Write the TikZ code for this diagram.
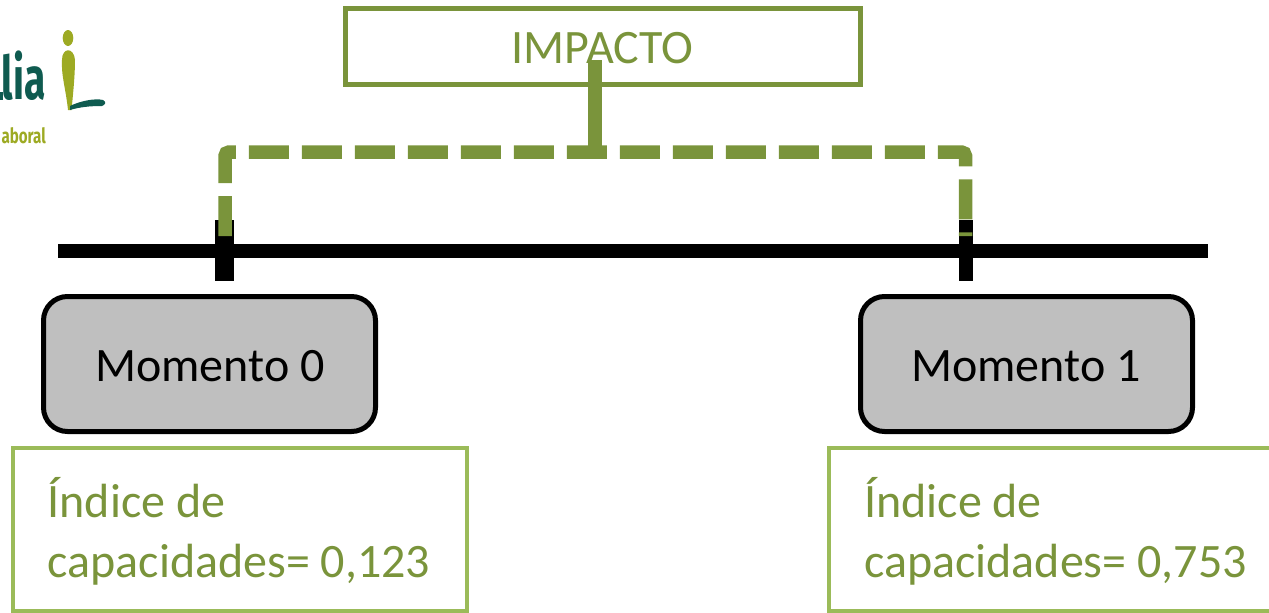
\documentclass[tikz,border=0pt]{standalone}
\usepackage{fontspec}
\setmainfont{Carlito}
\newfontfamily\logofont{Fira Sans}
\definecolor{olivegreen}{HTML}{7A943B}
\definecolor{lightgreen}{HTML}{9BBB59}
\definecolor{momentgray}{HTML}{BFBFBF}
\definecolor{logoolive}{HTML}{9DAA23}
\definecolor{logoteal}{HTML}{0F5B50}
\tikzset{
  titlebox/.style={draw=olivegreen,line width=5pt,fill=white,minimum width=515pt,minimum height=75.5pt,outer sep=0pt,inner sep=0pt},
  titletext/.style={inner sep=0pt,text=olivegreen,font=\fontsize{48}{48}\selectfont,anchor=base},
  momentbox/.style={draw=black,line width=5pt,fill=momentgray,rounded corners=24pt,minimum width=332pt,minimum height=135pt,outer sep=0pt,inner sep=0pt},
  momenttext/.style={inner sep=0pt,text=black,font=\fontsize{48}{48}\selectfont,anchor=base},
  indexbox/.style={draw=lightgreen,line width=4pt,fill=white,minimum height=163pt,outer sep=0pt,inner sep=0pt},
  indextext/.style={text=olivegreen,font=\fontsize{48}{48}\selectfont,anchor=base west,inner sep=0pt},
  axisline/.style={draw=black,line width=14pt},
  dashlink/.style={draw=olivegreen,line width=13.5pt,dash pattern=on 40pt off 13pt,rounded corners=4pt},
  solidlink/.style={draw=olivegreen,line width=13.5pt}
}
\begin{document}
\begin{tikzpicture}[x=1pt,y=-1pt]
\useasboundingbox (0,0) rectangle (1269,613);
% logo
\node[name=logoword,anchor=base east,inner sep=0pt,text=logoteal,font=\logofont\bfseries\fontsize{60}{60}\selectfont,xscale=0.65] at (46,99.5) {lia};
\fill[logoteal] (0,92) rectangle (3,100);
\node[name=logosub,anchor=base east,inner sep=0pt,text=logoolive,font=\logofont\bfseries\fontsize{21}{21}\selectfont,xscale=0.72] at (46,143) {aboral};
\fill[logoolive] (68,38) ellipse (5.3 and 8);
\fill[logoolive] (62,60) .. controls (62,47) and (74,47) .. (75,60) .. controls (75,75) and (73,95) .. (71.5,110) -- (68,110) .. controls (66,90) and (61,75) .. (62,60) -- cycle;
\fill[logoteal] (70,106) .. controls (80,101) and (95,98) .. (103,100) .. controls (107,102) and (105,105) .. (102,106) .. controls (90,106) and (80,107) .. (70,110) -- cycle;
% boxes
\node[titlebox] (impacto) at (602.5,46.25) {};
\node[titletext,name=impactotext] at (602.5,63.5) {IMPACTO};
\node[momentbox] (m0) at (209.5,364) {};
\node[momentbox] (m1) at (1026.5,364) {};
\node[momenttext,name=m0text] at (210,381.5) {Momento 0};
\node[momenttext,name=m1text] at (1026,381.5) {Momento 1};
\node[indexbox,minimum width=454pt] (i0) at (240,529.5) {};
\node[indexbox,minimum width=442pt] (i1) at (1050,529.5) {};
\node[indextext,name=t0a] at (47.5,517) {Índice de};
\node[indextext,name=t0b] at (47.5,577) {capacidades= 0,123};
\node[indextext,name=t1a] at (864,517) {Índice de};
\node[indextext,name=t1b] at (864,577) {capacidades= 0,753};
% axis
\coordinate (axisL) at (58,251);
\coordinate (axisR) at (1208,251);
\coordinate (tick0a) at (224.5,220);
\coordinate (tick0b) at (224.5,281);
\coordinate (tick1a) at (966,220);
\coordinate (tick1b) at (966,281);
\draw[axisline] (axisL) -- (axisR);
\draw[axisline,line width=19pt] (tick0a) -- (tick0b);
\draw[axisline] (tick1a) -- (tick1b);
% connectors
\coordinate (link0) at (225,236);
\coordinate (link1) at (965.5,236);
\coordinate (linkTop) at (595,60);
\coordinate (linkMid) at (595,158.75);
\draw[dashlink] (link0) -- (225,152) -- (965.5,152) -- (link1);
\draw[solidlink] (linkTop) -- (linkMid);
\end{tikzpicture}
\end{document}
